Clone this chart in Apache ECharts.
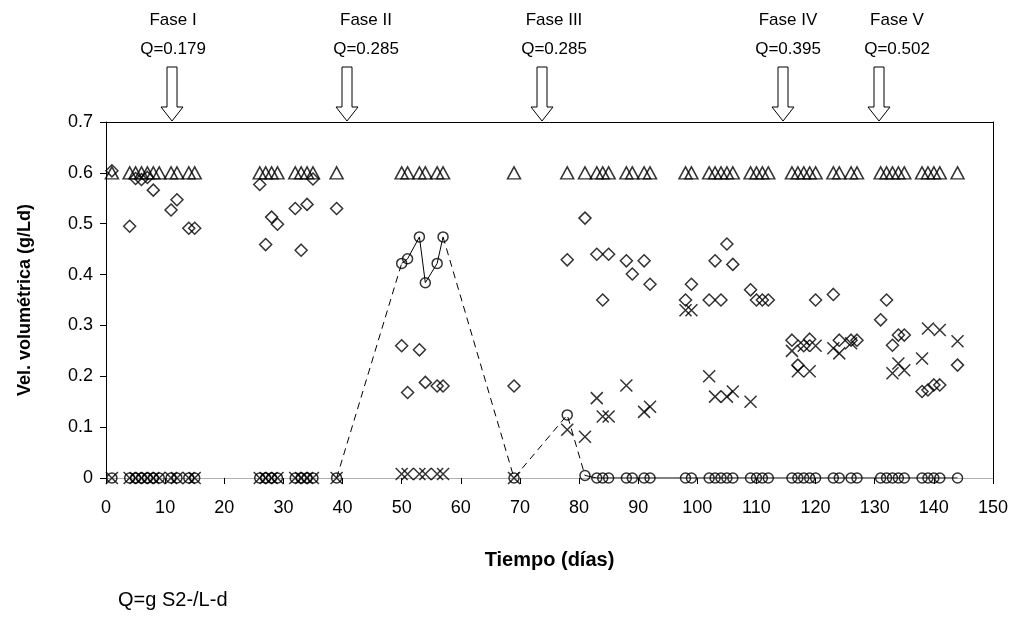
<!DOCTYPE html>
<html><head><meta charset="utf-8">
<script src="https://cdn.jsdelivr.net/npm/echarts@6/dist/echarts.min.js"></script>
<style>html,body{margin:0;padding:0;background:#fff}#c{width:1018px;height:636px}</style>
</head><body><div id="c"></div>
<script>
// ---- data (day, g/Ld) ----
const triangles = [[1,0.6],[4,0.6],[5,0.6],[6,0.6],[7,0.6],[8,0.6],[9,0.6],[11,0.6],[12,0.6],[14,0.6],[15,0.6],
  [26,0.6],[27,0.6],[28,0.6],[29,0.6],[32,0.6],[33,0.6],[34,0.6],[35,0.6],[39,0.6],
  [50,0.6],[51,0.6],[53,0.6],[54,0.6],[56,0.6],[57,0.6],[69,0.6],[78,0.6],
  [81,0.6],[83,0.6],[84,0.6],[85,0.6],[88,0.6],[89,0.6],[91,0.6],[92,0.6],[98,0.6],[99,0.6],
  [102,0.6],[103,0.6],[104,0.6],[105,0.6],[106,0.6],[109,0.6],[110,0.6],[111,0.6],[112,0.6],
  [116,0.6],[117,0.6],[118,0.6],[119,0.6],[120,0.6],[123,0.6],[124,0.6],[126,0.6],[127,0.6],
  [131,0.6],[132,0.6],[133,0.6],[134,0.6],[135,0.6],[138,0.6],[139,0.6],[140,0.6],[141,0.6],[144,0.6]];

const diamonds = [[1,0.604],[4,0.495],[5,0.589],[6,0.587],[7,0.591],[8,0.566],[11,0.527],[12,0.547],[14,0.491],[15,0.491],
  [26,0.577],[27,0.459],[28,0.513],[29,0.499],[32,0.530],[33,0.448],[34,0.538],[35,0.588],[39,0.530],
  [50,0.26],[51,0.168],[53,0.252],[54,0.188],[56,0.181],[57,0.181],[69,0.181],
  [78,0.429],[81,0.511],[83,0.440],[84,0.350],[85,0.440],[88,0.427],[89,0.401],[91,0.427],[92,0.381],
  [98,0.350],[99,0.381],[102,0.350],[103,0.427],[104,0.350],[105,0.460],[106,0.420],
  [109,0.370],[110,0.350],[111,0.350],[112,0.350],
  [116,0.271],[117,0.222],[118,0.260],[119,0.273],[120,0.350],[123,0.361],[124,0.271],[126,0.271],[127,0.271],
  [131,0.311],[132,0.350],[133,0.261],[134,0.281],[135,0.281],[138,0.170],[139,0.173],[140,0.183],[141,0.183],[144,0.222]];

const crosses = [[1,0],[4,0],[5,0],[6,0],[7,0],[8,0],[9,0],[11,0],[12,0],[14,0],[15,0],
  [26,0],[27,0],[28,0],[29,0],[32,0],[33,0],[34,0],[35,0],[39,0],
  [50,0.008],[51,0.008],[53,0.008],[54,0.008],[56,0.008],[57,0.008],[69,0],
  [78,0.095],[81,0.081],[83,0.157],[84,0.121],[85,0.121],[88,0.182],[91,0.130],[92,0.140],
  [98,0.330],[99,0.330],[102,0.200],[103,0.160],[105,0.160],[106,0.170],[109,0.150],
  [116,0.250],[117,0.210],[118,0.260],[119,0.210],[120,0.260],[123,0.255],[124,0.245],[126,0.265],
  [133,0.206],[134,0.225],[135,0.212],[138,0.235],[139,0.294],[141,0.291],[144,0.269]];

const circlesEarly = [[1,0],[4,0],[5,0],[6,0],[7,0],[8,0],[9,0],[11,0],[12,0],[14,0],[15,0],
  [26,0],[27,0],[28,0],[29,0],[32,0],[33,0],[34,0],[35,0]];

const circlesLine = [[39,0],[50,0.422],[51,0.431],[53,0.474],[54,0.384],[56,0.422],[57,0.474],[69,0],
  [78,0.124],[81,0.005],[83,0],[84,0],[85,0],[88,0],[89,0],[91,0],[92,0],[98,0],[99,0],
  [102,0],[103,0],[104,0],[105,0],[106,0],[109,0],[110,0],[111,0],[112,0],
  [116,0],[117,0],[118,0],[119,0],[120,0],[123,0],[124,0],[126,0],[127,0],
  [131,0],[132,0],[133,0],[134,0],[135,0],[138,0],[139,0],[140,0],[141,0],[144,0]];

// day ranges where the circle line is dashed
const dashedRuns = [[39,50],[57,81]];

const phaseNames = ['Fase I','Fase II','Fase III','Fase IV','Fase V'];
const phaseQ = ['Q=0.179','Q=0.285','Q=0.285','Q=0.395','Q=0.502'];
const xTickLabels = ['0','10','20','30','40','50','60','70','80','90','100','110','120','130','140','150'];
const yTickLabels = ['0','0.1','0.2','0.3','0.4','0.5','0.6','0.7'];

// ---- layout ----
const FONT = "'Liberation Sans', Arial, sans-serif";
const textX = [173, 366, 554, 788, 897];
const arrowX = [172, 347, 542, 783, 879];

function buildRuns(pts){
  const runs=[]; let cur=null;
  for(let i=0;i<pts.length-1;i++){
    const a=pts[i], b=pts[i+1];
    const dashed = dashedRuns.some(r=>a[0]>=r[0] && b[0]<=r[1]);
    if(!cur || cur.dashed!==dashed){ cur={dashed, data:[a]}; runs.push(cur); }
    cur.data.push(b);
  }
  return runs;
}

const hollow = {color:'rgba(0,0,0,0)', borderColor:'#000', borderWidth:1.5};
const series = [];
buildRuns(circlesLine).forEach(r=>{
  series.push({type:'line', data:r.data, showSymbol:false, silent:true, z:2,
    lineStyle:{color:'#000', width:1, type: r.dashed ? [7,5] : 'solid'}});
});
series.push({type:'scatter', data:triangles, symbol:'triangle', symbolSize:[13,12], itemStyle:hollow, z:3});
series.push({type:'scatter', data:diamonds, symbol:'diamond', symbolSize:[12,12], itemStyle:hollow, z:3});
series.push({type:'scatter', data:circlesEarly.concat(circlesLine), symbol:'circle', symbolSize:10, itemStyle:hollow, z:3});
series.push({type:'scatter', data:crosses, symbol:'path://M0,0L10,10M10,0L0,10', symbolSize:12,
  itemStyle:{color:'rgba(0,0,0,0)', borderColor:'#000', borderWidth:1.5}, z:4});

const graphics = [];
phaseNames.forEach((n,i)=>{
  graphics.push({type:'text', x:textX[i], y:20, style:{text:n, font:'17px '+FONT, fill:'#000', textAlign:'center', textVerticalAlign:'middle'}});
  graphics.push({type:'text', x:textX[i], y:49, style:{text:phaseQ[i], font:'17px '+FONT, fill:'#000', textAlign:'center', textVerticalAlign:'middle'}});
  const cx = arrowX[i];
  graphics.push({type:'polygon', shape:{points:[[cx-5,67],[cx+5,67],[cx+5,107],[cx+11,107],[cx,121],[cx-11,107],[cx-5,107]]},
    style:{fill:'#fff', stroke:'#000', lineWidth:1}});
});
graphics.push({type:'text', x:118, y:600, style:{text:'Q=g S2-/L-d', font:'20px '+FONT, fill:'#000', textVerticalAlign:'middle'}});

const chart = echarts.init(document.getElementById('c'), null, {renderer:'canvas'});
chart.setOption({
  animation:false,
  backgroundColor:'#fff',
  grid:{left:106, top:122, width:887, height:356, containLabel:false},
  xAxis:[{
    type:'value', min:0, max:150, interval:10, position:'bottom',
    axisLine:{show:true, onZero:false, lineStyle:{color:'#b0b0b0', width:1}},
    axisTick:{show:true, inside:false, length:6, lineStyle:{color:'#000'}},
    axisLabel:{fontSize:18, color:'#000', fontFamily:FONT, margin:21,
      formatter:(v)=>xTickLabels[Math.round(v/10)]},
    splitLine:{show:false},
    name:'Tiempo (días)', nameLocation:'middle', nameGap:72,
    nameTextStyle:{fontSize:20, fontWeight:'bold', color:'#000', fontFamily:FONT}
  },{
    type:'value', min:0, max:150, position:'top',
    axisLine:{show:true, onZero:false, lineStyle:{color:'#000', width:1}},
    axisTick:{show:false}, axisLabel:{show:false}, splitLine:{show:false}
  }],
  yAxis:[{
    type:'value', min:0, max:0.7, interval:0.1, position:'left',
    axisLine:{show:true, onZero:false, lineStyle:{color:'#000', width:1}},
    axisTick:{show:true, inside:false, length:6, lineStyle:{color:'#000'}},
    axisLabel:{fontSize:18, color:'#000', fontFamily:FONT, margin:13,
      formatter:(v)=>yTickLabels[Math.round(v*10)]},
    splitLine:{show:false},
    name:'Vel. volumétrica (g/Ld)', nameLocation:'middle', nameGap:72, nameRotate:90,
    nameTextStyle:{fontSize:18, fontWeight:'bold', color:'#000', fontFamily:FONT}
  },{
    type:'value', min:0, max:0.7, position:'right',
    axisLine:{show:true, onZero:false, lineStyle:{color:'#000', width:1}},
    axisTick:{show:false}, axisLabel:{show:false}, splitLine:{show:false}
  }],
  series:series,
  graphic:graphics
});
</script></body></html>
